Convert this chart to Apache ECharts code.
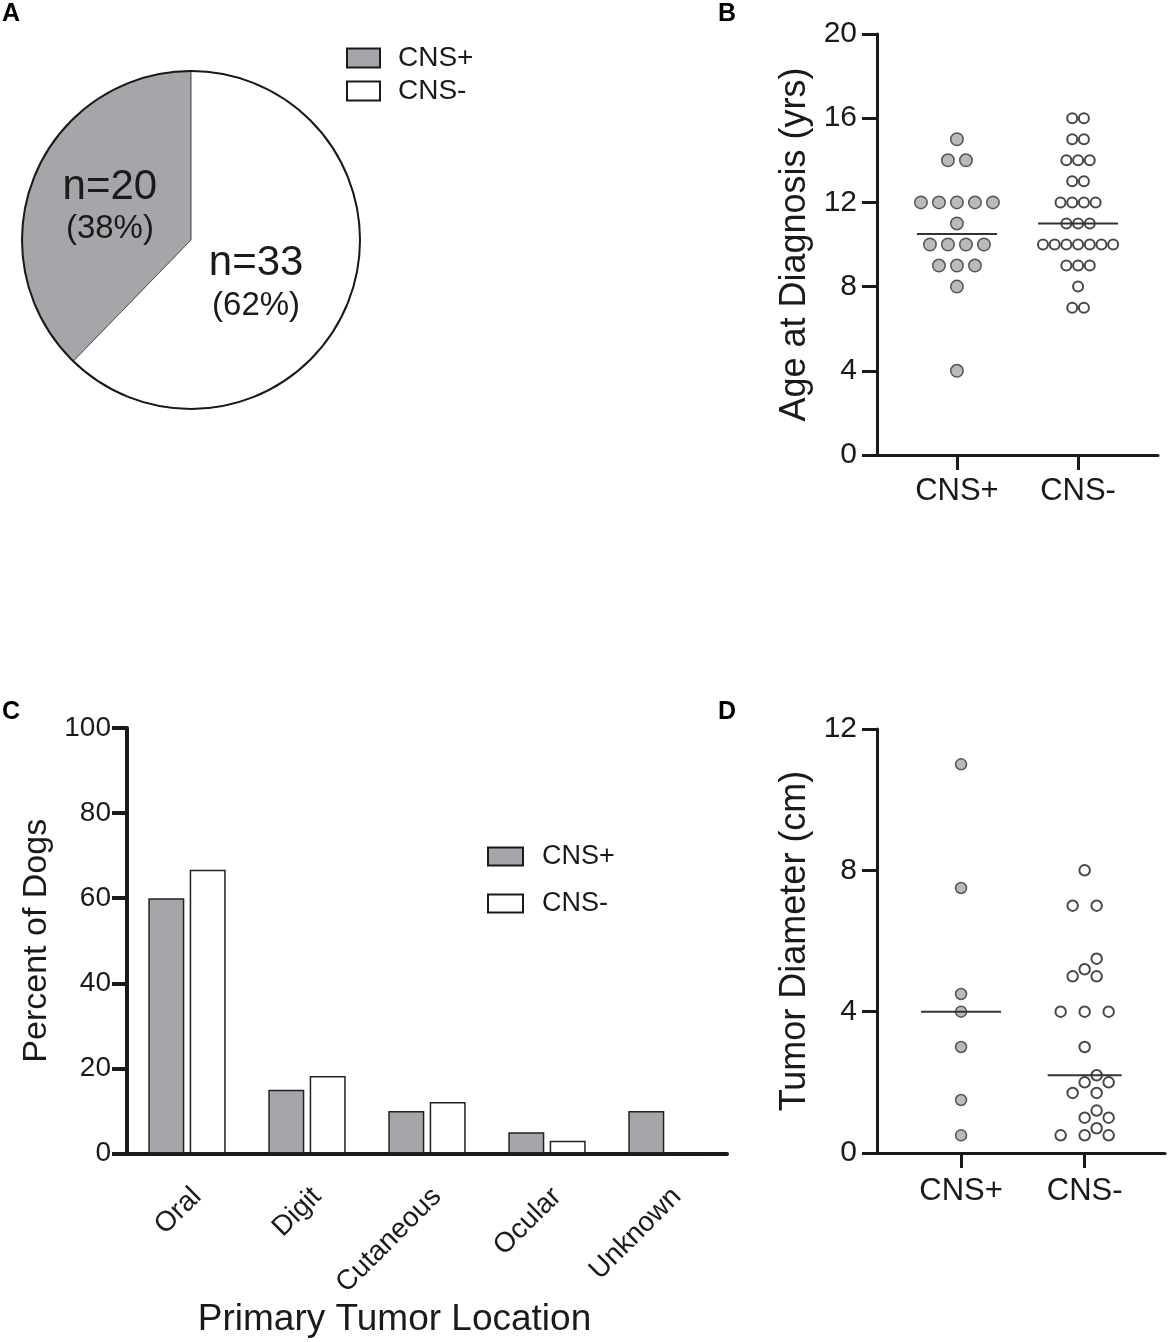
<!DOCTYPE html>
<html>
<head>
<meta charset="utf-8">
<script src="https://cdn.jsdelivr.net/npm/echarts@6/dist/echarts.min.js"></script>
<style>
  html, body { margin: 0; padding: 0; background: #fff; }
  #main { width: 1168px; height: 1342px; }
</style>
</head>
<body>
<div id="main"></div>
<script>
// groups and counts (panel A)
const groups = ['CNS+', 'CNS-'];
const dogCounts = [20, 33];

// panel C: primary tumor location, percent of dogs
const locations = ['Oral', 'Digit', 'Cutaneous', 'Ocular', 'Unknown'];
const pctCnsPos = [60, 15, 10, 5, 10];
const pctCnsNeg = [66.7, 18.2, 12.1, 3.0, 0];

// panel B: age at diagnosis (yrs)
const ageCnsPos = [15, 14, 14, 12, 12, 12, 12, 12, 11, 10, 10, 10, 10, 9, 9, 9, 8, 4];
const ageCnsNeg = [16, 16, 15, 15, 14, 14, 14, 13, 13, 12, 12, 12, 12, 11, 11, 11,
                   10, 10, 10, 10, 10, 10, 10, 9, 9, 9, 8, 7, 7];

// panel D: tumor diameter (cm)
const diamCnsPos = [11, 7.5, 4.5, 4, 3, 1.5, 0.5];
const diamCnsNeg = [8, 7, 7, 5.5, 5.2, 5, 5, 4, 4, 4, 3, 2.2, 2, 2, 1.7, 1.7,
                    1.2, 1, 1, 0.7, 0.5, 0.5, 0.5];

const FONT = "'Liberation Sans', Arial, sans-serif";
const INK = '#1a1a1a';
const GREY = '#a6a6aa';

// grids (px) for the three cartesian panels
const gB = { left: 877, top: 34, width: 281, height: 421 };
const gC = { left: 127, top: 728, width: 600, height: 425.5 };
const gD = { left: 877, top: 729, width: 288, height: 424 };
const xB = { min: 0.34, max: 2.66 };
const xD = { min: 0.32, max: 2.65 };

function median(arr) {
  const s = arr.slice().sort((a, b) => a - b);
  const m = Math.floor(s.length / 2);
  return s.length % 2 ? s[m] : (s[m - 1] + s[m]) / 2;
}

// simple beeswarm: equal values are centred in a row, rows are nudged
// sideways by half a step until they clear the dots already placed
function swarm(values, center, step, minDist, pxX, pxY) {
  const sorted = values.slice().sort((a, b) => a - b);
  const placed = [];
  for (let i = 0; i < sorted.length;) {
    let j = i;
    while (j < sorted.length && sorted[j] === sorted[i]) j++;
    const n = j - i, y = sorted[i] * pxY;
    for (let k = 0; k < 60; k++) {
      const shift = (k % 2 ? 1 : -1) * Math.ceil(k / 2) * step / 2;
      const xs = [];
      for (let m = 0; m < n; m++) xs.push((m - (n - 1) / 2) * step + shift);
      const free = xs.every(x => placed.every(p => Math.hypot(p.x - x, p.y - y) >= minDist));
      if (free) { xs.forEach(x => placed.push({ x: x, y: y, v: sorted[i] })); break; }
    }
    i = j;
  }
  return placed.map(p => [center + p.x / pxX, p.v]);
}

function medianLine(values, center, halfPx, pxX, xi, yi) {
  const m = median(values);
  return {
    type: 'line', xAxisIndex: xi, yAxisIndex: yi, silent: true, z: 5,
    symbol: 'none', lineStyle: { color: '#333', width: 2 },
    data: [[center - halfPx / pxX, m], [center + halfPx / pxX, m]]
  };
}

const pxBx = gB.width / (xB.max - xB.min), pxBy = gB.height / 20;
const pxDx = gD.width / (xD.max - xD.min), pxDy = gD.height / 12;

const dotPos = { color: '#a9a9ad', borderColor: '#333', borderWidth: 1.5 };
const dotNeg = { color: '#fff', borderColor: INK, borderWidth: 2 };

function groupAxisX(gi, range, margin) {
  return {
    type: 'value', gridIndex: gi, min: range.min, max: range.max,
    axisLine: { onZero: false, lineStyle: { color: INK, width: 3 } },
    axisTick: { show: true, customValues: [1, 2], length: 15, lineStyle: { color: INK, width: 3 } },
    axisLabel: { customValues: [1, 2], formatter: v => groups[Math.round(v) - 1],
                 color: INK, fontSize: 31, fontFamily: FONT, margin: margin },
    splitLine: { show: false }
  };
}

function valueAxisY(gi, max, interval, name, gap, fontSize, nameSize) {
  return {
    type: 'value', gridIndex: gi, min: 0, max: max, interval: interval,
    name: name, nameLocation: 'middle', nameGap: gap,
    nameTextStyle: { color: INK, fontSize: nameSize, fontFamily: FONT },
    axisLine: { show: true, onZero: false, lineStyle: { color: INK, width: gi === 1 ? 4 : 3 } },
    axisTick: { show: true, length: 15, lineStyle: { color: INK, width: gi === 1 ? 4 : 3 } },
    axisLabel: { color: INK, fontSize: fontSize, fontFamily: FONT, margin: gi === 1 ? 16 : 20 },
    splitLine: { show: false }
  };
}

const legendBase = {
  orient: 'vertical', icon: 'rect', selectedMode: false, padding: 0,
  itemStyle: { borderColor: INK, borderWidth: 2 }
};

// panel letters
const letter = (t, x, y) => ({
  type: 'text', left: x, top: y, silent: true,
  style: { text: t, font: "bold 25px 'Liberation Sans', Arial, sans-serif", fill: '#000' }
});

const chart = echarts.init(document.getElementById('main'), null, { renderer: 'canvas' });

chart.setOption({
  animation: false,
  backgroundColor: '#fff',
  graphic: [letter('A', 2, 2), letter('B', 718, 2), letter('C', 2, 700), letter('D', 718, 700)],
  legend: [
    Object.assign({}, legendBase, {
      data: groups, left: 346, top: 44, itemWidth: 33, itemHeight: 19, itemGap: 5,
      textStyle: { color: INK, fontFamily: FONT, fontSize: 28, padding: [0, 0, 0, 13] }
    }),
    Object.assign({}, legendBase, {
      data: groups, left: 487, top: 843, itemWidth: 35, itemHeight: 18, itemGap: 20,
      textStyle: { color: INK, fontFamily: FONT, fontSize: 27, padding: [0, 0, 0, 14] }
    })
  ],
  grid: [
    Object.assign({ containLabel: false, outerBoundsMode: 'none' }, gB),
    Object.assign({ containLabel: false, outerBoundsMode: 'none' }, gC),
    Object.assign({ containLabel: false, outerBoundsMode: 'none' }, gD)
  ],
  xAxis: [
    groupAxisX(0, xB, 21),
    {
      type: 'category', gridIndex: 1, data: locations,
      name: 'Primary Tumor Location', nameLocation: 'middle', nameGap: 146,
      nameTextStyle: { color: INK, fontSize: 37, fontFamily: FONT, padding: [0, 65, 0, 0] },
      axisLine: { lineStyle: { color: INK, width: 4 } },
      axisTick: { alignWithLabel: true, length: 15, lineStyle: { color: INK, width: 4 } },
      axisLabel: { interval: 0, rotate: 45, align: 'right', verticalAlign: 'top', margin: 29,
                   color: INK, fontSize: 28, fontFamily: FONT },
      splitLine: { show: false }
    },
    groupAxisX(2, xD, 23)
  ],
  yAxis: [
    valueAxisY(0, 20, 4, 'Age at Diagnosis (yrs)', 64, 30, 36),
    valueAxisY(1, 100, 20, 'Percent of Dogs', 72, 28, 34),
    valueAxisY(2, 12, 4, 'Tumor Diameter (cm)', 64, 30, 36)
  ],
  series: [
    {
      type: 'pie', center: [191, 240], radius: 169, startAngle: 90, clockwise: false,
      emphasis: { disabled: true }, silent: true,
      itemStyle: { borderColor: '#555', borderWidth: 1 },
      label: {
        show: true, position: 'inside',
        formatter: p => '{n|n=' + p.value + '}\n{p|(' + Math.round(p.percent) + '%)}',
        rich: {
          n: { fontSize: 42, lineHeight: 44, color: INK, fontFamily: FONT },
          p: { fontSize: 33, lineHeight: 40, color: INK, fontFamily: FONT }
        }
      },
      labelLine: { show: false },
      data: [
        { name: groups[0], value: dogCounts[0], itemStyle: { color: GREY } },
        { name: groups[1], value: dogCounts[1], itemStyle: { color: '#fff' }, label: { offset: [-16, 11] } }
      ]
    },
    {
      // outer rim of the pie
      type: 'pie', center: [191, 240], radius: 169, silent: true, z: 3,
      emphasis: { disabled: true }, label: { show: false }, labelLine: { show: false },
      itemStyle: { color: 'rgba(0,0,0,0)', borderColor: INK, borderWidth: 2 },
      data: [{ value: 1 }]
    },
    {
      name: groups[0], type: 'bar', xAxisIndex: 1, yAxisIndex: 1, data: pctCnsPos,
      barWidth: 36, barGap: '15%', silent: true,
      itemStyle: { color: GREY, borderColor: '#222', borderWidth: 1.5 }
    },
    {
      name: groups[1], type: 'bar', xAxisIndex: 1, yAxisIndex: 1, data: pctCnsNeg,
      barWidth: 36, barGap: '15%', silent: true,
      itemStyle: { color: '#fff', borderColor: '#222', borderWidth: 1.5 }
    },
    {
      type: 'scatter', xAxisIndex: 0, yAxisIndex: 0, symbolSize: 12.5, silent: true,
      itemStyle: dotPos, data: swarm(ageCnsPos, 1, 18, 14, pxBx, pxBy)
    },
    {
      type: 'scatter', xAxisIndex: 0, yAxisIndex: 0, symbolSize: 10, silent: true,
      itemStyle: dotNeg, data: swarm(ageCnsNeg, 2, 11.7, 11, pxBx, pxBy)
    },
    medianLine(ageCnsPos, 1, 40, pxBx, 0, 0),
    medianLine(ageCnsNeg, 2, 40, pxBx, 0, 0),
    {
      type: 'scatter', xAxisIndex: 2, yAxisIndex: 2, symbolSize: 11, silent: true,
      itemStyle: dotPos, data: swarm(diamCnsPos, 1, 23.6, 13, pxDx, pxDy)
    },
    {
      type: 'scatter', xAxisIndex: 2, yAxisIndex: 2, symbolSize: 10.5, silent: true,
      itemStyle: dotNeg, data: swarm(diamCnsNeg, 2, 24, 13, pxDx, pxDy)
    },
    medianLine(diamCnsPos, 1, 40, pxDx, 2, 2),
    medianLine(diamCnsNeg, 2, 37, pxDx, 2, 2)
  ]
});
</script>
</body>
</html>
